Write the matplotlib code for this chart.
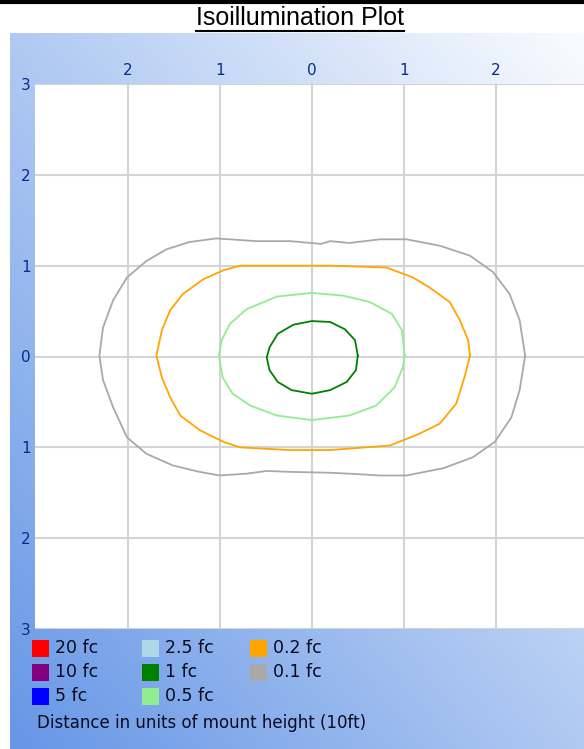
import numpy as np
import matplotlib
matplotlib.use("Agg")
import matplotlib.pyplot as plt
from matplotlib.patches import Rectangle
from matplotlib.lines import Line2D

# contour outlines (units of mount height)
gray_x = [2.32, 2.26, 2.15, 1.97, 1.72, 1.39, 1.03, 0.74, 0.41, 0.20, 0.10, -0.24, -0.60, -1.04,
          -1.33, -1.58, -1.80, -2.01, -2.16, -2.27, -2.31, -2.27, -2.16, -2.01, -1.80, -1.51,
          -1.22, -1.00, -0.71, -0.49, -0.24, 0.20, 0.41, 0.74, 1.03, 1.43, 1.75, 1.99, 2.17, 2.26]
gray_y = [0.01, 0.40, 0.69, 0.93, 1.11, 1.22, 1.29, 1.29, 1.25, 1.27, 1.24, 1.27, 1.27, 1.30,
          1.26, 1.18, 1.05, 0.87, 0.62, 0.32, 0.01, -0.26, -0.56, -0.89, -1.07, -1.20,
          -1.27, -1.31, -1.29, -1.26, -1.27, -1.28, -1.29, -1.31, -1.31, -1.23, -1.11, -0.94, -0.67, -0.37]

orange_x = [1.72, 1.70, 1.61, 1.50, 1.28, 1.10, 0.81, 0.20, -0.24, -0.78, -0.96, -1.18, -1.40,
            -1.54, -1.63, -1.69, -1.63, -1.54, -1.43, -1.22, -0.96, -0.78, -0.24, 0.20, 0.85,
            1.17, 1.39, 1.57, 1.66]
orange_y = [0.01, 0.18, 0.40, 0.60, 0.76, 0.87, 0.98, 1.00, 1.00, 1.00, 0.95, 0.85, 0.69,
            0.51, 0.29, 0.01, -0.23, -0.45, -0.65, -0.81, -0.94, -1.00, -1.03, -1.03, -0.98,
            -0.85, -0.74, -0.52, -0.23]

lgreen_x = [1.01, 0.98, 0.87, 0.63, 0.34, 0.00, -0.38, -0.71, -0.89, -0.98, -1.01, -0.97, -0.86,
            -0.67, -0.38, 0.00, 0.41, 0.70, 0.90, 0.99]
lgreen_y = [0.01, 0.29, 0.47, 0.60, 0.67, 0.70, 0.66, 0.52, 0.36, 0.18, 0.01, -0.23, -0.41,
            -0.54, -0.65, -0.70, -0.65, -0.54, -0.34, -0.12]

green_x = [0.50, 0.47, 0.36, 0.20, 0.00, -0.20, -0.37, -0.46, -0.49, -0.46, -0.37, -0.22, 0.00,
           0.20, 0.38, 0.48]
green_y = [0.01, 0.18, 0.30, 0.38, 0.39, 0.35, 0.25, 0.10, -0.01, -0.15, -0.28, -0.37, -0.41,
           -0.37, -0.28, -0.15]

legend_labels = ["20 fc", "10 fc", "5 fc", "2.5 fc", "1 fc", "0.5 fc", "0.2 fc", "0.1 fc"]
legend_colors = ["#ff0000", "#800080", "#0000ff", "#add8e6", "#008000", "#90ee90", "#ffa500", "#a9a9a9"]

ticks = [-3, -2, -1, 0, 1, 2, 3]

W, H = 584, 749
fig = plt.figure(figsize=(W / 100, H / 100), dpi=100)

# blue gradient panel
bg = fig.add_axes([10 / W, 0, (W - 10) / W, (H - 33) / H])
u = np.linspace(0, 1, 200)
v = np.linspace(1, 0, 200)
U, V = np.meshgrid(u, v)
t = (U + V) / 2
dark = np.array([0.40, 0.59, 0.90])
light = np.array([0.98, 0.99, 1.0])
img = dark[None, None, :] * (1 - t[..., None]) + light[None, None, :] * t[..., None]
bg.imshow(img, aspect="auto", extent=[0, 1, 0, 1])
bg.axis("off")

# main plot
ax = fig.add_axes([35 / W, 1 - 629 / H, (W - 35) / W, (629 - 84) / H])
ax.set_facecolor("white")
ax.set_xlim(-3.01, 2.96)
ax.set_ylim(-3, 3)
for s in ax.spines.values():
    s.set_visible(False)
ax.grid(True, color="#d4d4d4", lw=1.5)
ax.set_axisbelow(True)

ax.xaxis.tick_top()
ax.set_xticks(ticks[1:-1])
ax.set_xticklabels([str(abs(k)) for k in ticks[1:-1]])
ax.set_yticks(ticks)
ax.set_yticklabels([str(abs(k)) for k in ticks])
ax.tick_params(length=0, labelsize=11, labelcolor="#0b2a8c")
ax.tick_params(axis="x", pad=4)
ax.tick_params(axis="y", pad=3)

for xs, ys, c in [(gray_x, gray_y, "#a9a9a9"), (orange_x, orange_y, "#ffa500"),
                  (lgreen_x, lgreen_y, "#90ee90"), (green_x, green_y, "#008000")]:
    ax.plot(xs + xs[:1], ys + ys[:1], color=c, lw=1.3, solid_joinstyle="round")

# legend
for i, (lab, col) in enumerate(zip(legend_labels, legend_colors)):
    cx = [32, 142, 250][i // 3]
    cy = 648 + 24 * (i % 3)
    fig.add_artist(Rectangle((cx / W, 1 - (cy + 8.5) / H), 17 / W, 17 / H,
                             transform=fig.transFigure, color=col, lw=0))
    fig.text((cx + 23) / W, 1 - cy / H, lab, fontsize=12.5, va="center", ha="left", color="#0a0a20")

fig.text(37 / W, 1 - 723 / H, "Distance in units of mount height (10ft)", fontsize=12,
         va="center", ha="left", color="#0a0a20")

# title with underline
title = fig.text(300 / W, 1 - 18 / H, "Isoillumination Plot", fontsize=18,
                 family="Liberation Sans", ha="center", va="center")
fig.canvas.draw()
bb = title.get_window_extent().transformed(fig.transFigure.inverted())
fig.add_artist(Line2D([bb.x0, bb.x1], [1 - 31 / H] * 2, color="black", lw=1.5))
fig.add_artist(Line2D([0, 1], [1 - 2 / H] * 2, color="black", lw=3))

fig.savefig("out.png", dpi=100)
